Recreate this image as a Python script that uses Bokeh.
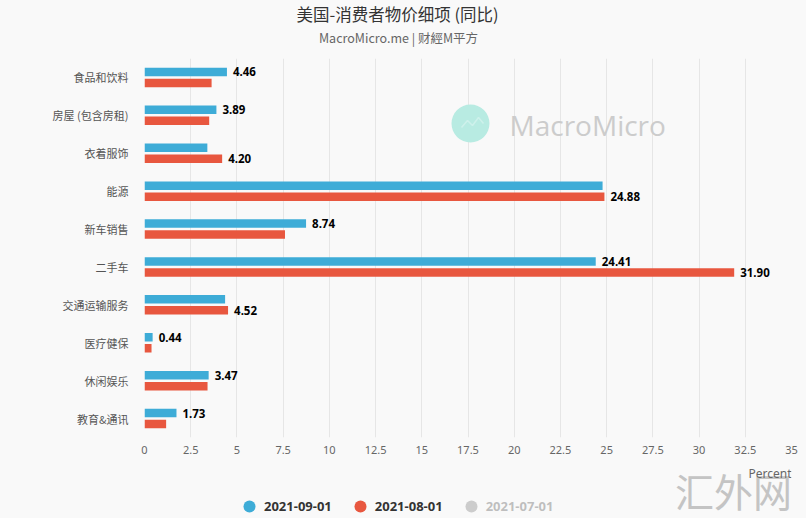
from bokeh.plotting import figure
from bokeh.layouts import column
from bokeh.models import (ColumnDataSource, FactorRange, Range1d, FixedTicker,
                          Label, Legend, LegendItem, BoxAnnotation, PolyAnnotation)
from bokeh.transform import dodge
from bokeh.core.properties import value
from bokeh.embed import file_html
from bokeh.resources import INLINE

# ---------------- data ----------------
categories = ["食品和饮料", "房屋 (包含房租)", "衣着服饰", "能源", "新车销售",
              "二手车", "交通运输服务", "医疗健保", "休闲娱乐", "教育&通讯"]
sep_values = [4.46, 3.89, 3.40, 24.78, 8.74, 24.41, 4.36, 0.44, 3.47, 1.73]
aug_values = [3.63, 3.50, 4.20, 24.88, 7.60, 31.90, 4.52, 0.38, 3.41, 1.17]
sep_show = [True, True, False, False, True, True, False, True, True, True]
aug_show = [False, False, True, True, False, True, True, False, False, False]
series_names = ["2021-09-01", "2021-08-01", "2021-07-01"]
x_ticks = [0, 2.5, 5, 7.5, 10, 12.5, 15, 17.5, 20, 22.5, 25, 27.5, 30, 32.5, 35]
x_tick_labels = ["0", "2.5", "5", "7.5", "10", "12.5", "15", "17.5", "20",
                 "22.5", "25", "27.5", "30", "32.5", "35"]
title_text = "美国-消费者物价细项 (同比)"
subtitle_text = "MacroMicro.me | 财經M平方"
x_unit = "Percent"

# ---------------- style ----------------
BG = "#f9f9f9"
BLUE = "#3eacd7"
RED = "#e8573f"
GRAY = "#636363"
CJK = "Noto Sans CJK SC"
LAT = "Noto Sans"
W = 806
BL, BR = 144, 15   # frame borders shared by all rows (frames get aligned)


def blank(height):
    f = figure(width=W, height=height, x_range=Range1d(0, 1), y_range=Range1d(0, 1),
               x_axis_type=None, y_axis_type=None, output_backend="svg",
               toolbar_location=None, min_border_left=BL, min_border_right=BR,
               min_border_top=0, min_border_bottom=0,
               background_fill_color=BG, border_fill_color=BG,
               outline_line_color=None)
    f.xgrid.visible = False
    f.ygrid.visible = False
    return f


# ---------------- header ----------------
top = blank(58)
top.add_layout(Label(x=397 - BL, y=45, x_units="screen", y_units="screen",
                     text=title_text, text_font=CJK,
                     text_font_size="16.5px", text_color="#333333",
                     text_align="center", text_baseline="middle"))
top.add_layout(Label(x=398 - BL, y=21, x_units="screen", y_units="screen",
                     text=subtitle_text, text_font=CJK,
                     text_font_size="12.5px", text_color="#666666",
                     text_align="center", text_baseline="middle"))

# ---------------- main chart ----------------
src = ColumnDataSource(dict(
    cat=categories,
    sep=sep_values,
    aug=aug_values,
    sep_lbl=[f"{v:.2f}" if s else "" for v, s in zip(sep_values, sep_show)],
    aug_lbl=[f"{v:.2f}" if s else "" for v, s in zip(aug_values, aug_show)],
))

fig = figure(width=W, height=404,
             y_range=FactorRange(factors=categories[::-1]),
             x_range=Range1d(0, 35),
             output_backend="svg", toolbar_location=None,
             min_border_left=BL, min_border_right=BR,
             min_border_top=0, min_border_bottom=25,
             background_fill_color=BG, border_fill_color=BG,
             outline_line_color=None)

# watermark logo (behind bars)
fig.add_layout(BoxAnnotation(left=307, right=345, top=333, bottom=295,
                             left_units="screen", right_units="screen",
                             top_units="screen", bottom_units="screen",
                             fill_color="#b8ebe2", fill_alpha=1.0,
                             line_color=None, border_radius=19, level="underlay"))
zz_x = [317, 323, 328, 334, 339]
zz_y = [310, 317, 312, 320, 314]
fig.add_layout(PolyAnnotation(xs=zz_x + zz_x[::-1], ys=zz_y + zz_y[::-1],
                              xs_units="screen", ys_units="screen",
                              fill_alpha=0, line_color="#ffffff", line_width=1.6,
                              level="underlay"))
fig.add_layout(Label(x=365, y=313, x_units="screen", y_units="screen",
                     text="MacroMicro", text_font="Open Sans",
                     text_font_size="28px", text_color="#cccccc",
                     text_align="left", text_baseline="middle", level="underlay"))

off = 0.145
bh = 0.225
fig.hbar(y=dodge("cat", off, range=fig.y_range), left=0, right="sep", height=bh,
         source=src, fill_color=BLUE, line_color=None)
fig.hbar(y=dodge("cat", -off, range=fig.y_range), left=0, right="aug", height=bh,
         source=src, fill_color=RED, line_color=None)

lbl_kw = dict(text_baseline="middle", text_align="left", x_offset=6,
              text_font=value(LAT), text_font_style="bold",
              text_font_size="11.5px", text_color="#000000", source=src)
fig.text(x="sep", y=dodge("cat", off, range=fig.y_range), text="sep_lbl", **lbl_kw)
fig.text(x="aug", y=dodge("cat", -off, range=fig.y_range), text="aug_lbl", **lbl_kw)

fig.xaxis.ticker = FixedTicker(ticks=x_ticks)
fig.xaxis.major_label_overrides = {t: l for t, l in zip(x_ticks, x_tick_labels)}
fig.xaxis.axis_line_color = None
fig.xaxis.major_tick_line_color = None
fig.xaxis.minor_tick_line_color = None
fig.xaxis.major_tick_out = 0
fig.xaxis.major_label_standoff = 8
fig.xaxis.major_label_text_font = LAT
fig.xaxis.major_label_text_font_size = "11px"
fig.xaxis.major_label_text_color = "#666666"

fig.yaxis.axis_line_color = None
fig.yaxis.major_tick_line_color = None
fig.yaxis.minor_tick_line_color = None
fig.yaxis.major_tick_out = 0
fig.yaxis.major_label_standoff = 16
fig.yaxis.major_label_text_font = CJK
fig.yaxis.major_label_text_font_size = "11px"
fig.yaxis.major_label_text_color = "#555555"

fig.xgrid.ticker = FixedTicker(ticks=x_ticks)
fig.xgrid.grid_line_color = "#e6e6e6"
fig.ygrid.grid_line_color = None

# ---------------- footer: unit, legend, watermark ----------------
bot = blank(56)
bot.add_layout(Label(x=733 - BL, y=29, x_units="screen", y_units="screen",
                     text="汇外网", text_font=CJK,
                     text_font_size="39px", text_color="#c4c4c4",
                     text_align="center", text_baseline="middle"))
bot.add_layout(Label(x=791 - BL, y=45, x_units="screen", y_units="screen",
                     text=x_unit, text_font=LAT,
                     text_font_size="12px", text_color="#666666",
                     text_align="right", text_baseline="middle"))

# legend proxies: one point each, placed outside the visible range
proxy = ColumnDataSource(dict(x=[-5], y=[-5]))
r1 = bot.scatter(x="x", y="y", source=proxy, marker="circle",
                 fill_color=BLUE, line_color=None)
r2 = bot.scatter(x="x", y="y", source=proxy, marker="circle",
                 fill_color=RED, line_color=None)
r3 = bot.scatter(x="x", y="y", source=proxy, marker="circle",
                 fill_color=GRAY, line_color=None)
r3.visible = False
legend = Legend(items=[LegendItem(label=series_names[0], renderers=[r1]),
                       LegendItem(label=series_names[1], renderers=[r2]),
                       LegendItem(label=series_names[2], renderers=[r3])],
                orientation="horizontal", location=(234 - BL, -3),
                click_policy="hide", inactive_fill_color=BG,
                inactive_fill_alpha=0.7,
                glyph_width=30, glyph_height=30, label_standoff=0,
                spacing=13, padding=0, margin=0,
                border_line_color=None, background_fill_alpha=0,
                label_text_font=LAT, label_text_font_style="bold",
                label_text_font_size="13px", label_text_color="#333333")
bot.add_layout(legend, "center")

p = column(top, fig, bot, spacing=0, styles={"background-color": BG})

open("out.html", "w").write(file_html(p, INLINE))
